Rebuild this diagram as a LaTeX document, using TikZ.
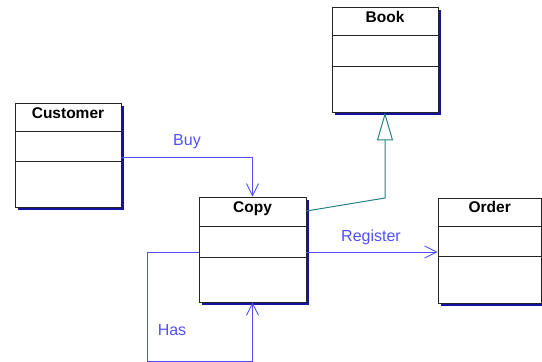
\documentclass[tikz,border=0pt]{standalone}
\usepackage{fontspec}
\setmainfont{Liberation Sans}
\usetikzlibrary{arrows.meta,shadows}
\definecolor{shadowblue}{RGB}{20,20,160}
\definecolor{assoc}{RGB}{80,80,255}
\definecolor{gen}{RGB}{40,128,128}
\begin{document}
\begin{tikzpicture}[x=1pt,y=-1pt,
  classbox/.style={draw=black!85, line width=0.9pt, fill=white, inner sep=0pt,
    drop shadow={shadow xshift=3pt, shadow yshift=-3pt, fill=shadowblue, opacity=1}},
  classname/.style={anchor=base, font=\fontsize{15.5}{17}\selectfont\bfseries, inner sep=0pt},
  divider/.style={draw=black!85, line width=0.9pt},
  assocline/.style={draw=assoc, line width=0.9pt},
  assocarrow/.style={assocline, -{Straight Barb[length=12pt,width=12pt,line width=0.9pt]}},
  genline/.style={draw=gen, line width=1pt, -{Triangle[open,length=28pt,width=16pt,fill=white,line width=1pt]}},
  lbl/.style={text=assoc, font=\fontsize{16}{18}\selectfont, inner sep=0pt}]
\useasboundingbox (0,0) rectangle (542,362);

% classes
\node[classbox, minimum width=106pt, minimum height=104pt] (customer) at (68,155) {};
\node[classbox, minimum width=106pt, minimum height=105pt] (book) at (385,59.5) {};
\node[classbox, minimum width=107pt, minimum height=105pt] (copy) at (252.5,249.5) {};
\node[classbox, minimum width=103.5pt, minimum height=105pt] (order) at (489.75,250.5) {};

\node[classname] (customerT) at ([yshift=-15.5pt]customer.north) {Customer};
\node[classname] (bookT) at ([yshift=-16pt]book.north) {Book};
\node[classname] (copyT) at ([yshift=-16pt]copy.north) {Copy};
\node[classname] (orderT) at ([yshift=-15pt]order.north) {Order};

\draw[divider] ([yshift=-29pt]customer.north west) -- ([yshift=-29pt]customer.north east);
\draw[divider] ([yshift=-59pt]customer.north west) -- ([yshift=-59pt]customer.north east);
\draw[divider] ([yshift=-29pt]book.north west) -- ([yshift=-29pt]book.north east);
\draw[divider] ([yshift=-60pt]book.north west) -- ([yshift=-60pt]book.north east);
\draw[divider] ([yshift=-30pt]copy.north west) -- ([yshift=-30pt]copy.north east);
\draw[divider] ([yshift=-61pt]copy.north west) -- ([yshift=-61pt]copy.north east);
\draw[divider] ([yshift=-29pt]order.north west) -- ([yshift=-29pt]order.north east);
\draw[divider] ([yshift=-59pt]order.north west) -- ([yshift=-59pt]order.north east);

% associations
\draw[assocarrow] ([yshift=-2pt]customer.east) -| (copy.north);
\draw[assocarrow] ([yshift=-2.5pt]copy.east) -- ([yshift=-2.5pt]copy.east -| order.west);
\coordinate (hasCorner) at (147,361);
\draw[assocarrow] ([yshift=-2.5pt]copy.west) -| (hasCorner) -| (copy.south);

% generalization
\coordinate (genBend) at (385,198);
\draw[genline] ([yshift=38.5pt]copy.east) -- (genBend) -- (book.south);

% labels
\node[lbl] (buyL) at (187,142) {Buy};
\node[lbl] (regL) at (371,237) {Register};
\node[lbl] (hasL) at (172,330) {Has};
\end{tikzpicture}
\end{document}
